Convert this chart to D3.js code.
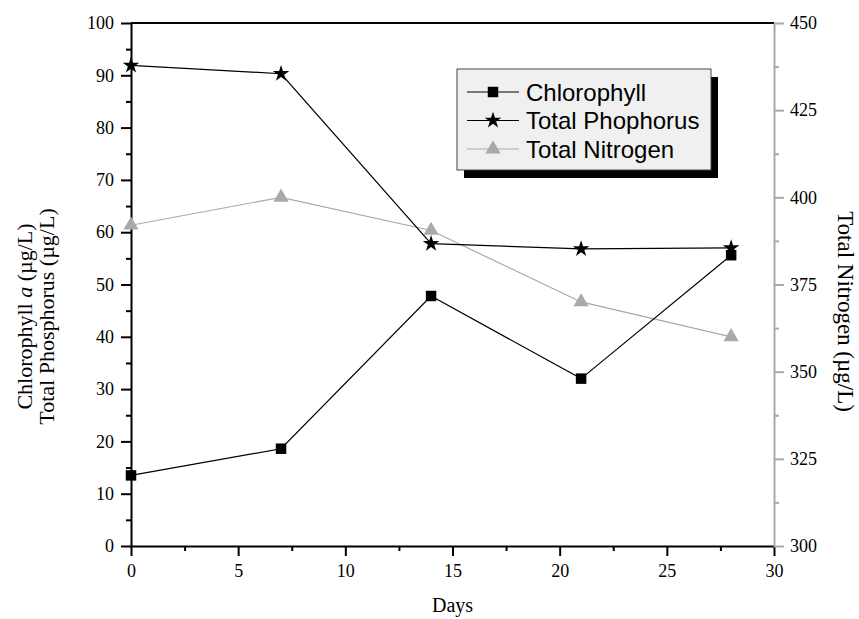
<!DOCTYPE html>
<html>
<head>
<meta charset="utf-8">
<script src="https://cdn.jsdelivr.net/npm/d3@7"></script>
<style>
  body { margin: 0; background: #fff; }
  svg { display: block; }
  .serif { font-family: "Liberation Serif", "Times New Roman", serif; }
  .sans { font-family: "Liberation Sans", Arial, sans-serif; }
</style>
</head>
<body>
<svg id="chart" width="859" height="619"></svg>
<script>
// Sampling days
const days = [0, 7, 14, 21, 28];
// Chlorophyll a (µg/L), left axis
const chlorophyll = [13.5, 18.6, 47.8, 32.0, 55.6];
// Total phosphorus (µg/L), left axis
const phosphorus = [91.9, 90.3, 57.8, 56.8, 57.0];
// Total nitrogen (µg/L), right axis
const nitrogen = [392, 400, 390.5, 370, 360];

const xTicks = [0, 5, 10, 15, 20, 25, 30];
const leftTicks = [0, 10, 20, 30, 40, 50, 60, 70, 80, 90, 100];
const rightTicks = [300, 325, 350, 375, 400, 425, 450];

const grey = "#a9a9a9";
const svg = d3.select("#chart");
const pLeft = 131, pRight = 774, pTop = 23, pBottom = 546;

const x = d3.scaleLinear().domain([0, 30]).range([pLeft, pRight]);
const yL = d3.scaleLinear().domain([0, 100]).range([pBottom, pTop]);
const yR = d3.scaleLinear().domain([300, 450]).range([pBottom, pTop]);

// top frame line
svg.append("line").attr("x1", pLeft).attr("x2", pRight).attr("y1", pTop).attr("y2", pTop)
  .attr("stroke", "#000").attr("stroke-width", 2);

// bottom axis
const xAxis = svg.append("g").attr("transform", `translate(0,${pBottom})`)
  .call(d3.axisBottom(x).tickValues(xTicks).tickSize(10).tickPadding(8).tickSizeOuter(0));
xAxis.selectAll(".tick line").attr("stroke-width", 2);
xAxis.select(".domain").attr("stroke-width", 2);
svg.append("g").attr("transform", `translate(0,${pBottom})`)
  .call(d3.axisBottom(x).tickValues(d3.range(2.5, 30, 5)).tickSize(5).tickFormat("").tickSizeOuter(0))
  .call(g => g.select(".domain").remove())
  .selectAll(".tick line").attr("stroke-width", 2);

// left axis
const lAxis = svg.append("g").attr("transform", `translate(${pLeft},0)`)
  .call(d3.axisLeft(yL).tickValues(leftTicks).tickSize(10).tickPadding(7).tickSizeOuter(0));
lAxis.selectAll(".tick line").attr("stroke-width", 2);
lAxis.select(".domain").attr("stroke-width", 2);
svg.append("g").attr("transform", `translate(${pLeft},0)`)
  .call(d3.axisLeft(yL).tickValues(d3.range(5, 100, 10)).tickSize(5).tickFormat("").tickSizeOuter(0))
  .call(g => g.select(".domain").remove())
  .selectAll(".tick line").attr("stroke-width", 2);

// right axis (nitrogen), grey
const rAxis = svg.append("g").attr("transform", `translate(${pRight},0)`)
  .call(d3.axisRight(yR).tickValues(rightTicks).tickSize(10).tickPadding(6).tickSizeOuter(0));
rAxis.selectAll(".tick line").attr("stroke", grey).attr("stroke-width", 2);
rAxis.select(".domain").attr("stroke", grey).attr("stroke-width", 2);
svg.append("g").attr("transform", `translate(${pRight},0)`)
  .call(d3.axisRight(yR).tickValues(d3.range(312.5, 450, 25)).tickSize(5).tickFormat("").tickSizeOuter(0))
  .call(g => g.select(".domain").remove())
  .selectAll(".tick line").attr("stroke", grey).attr("stroke-width", 2);

svg.selectAll(".tick text").attr("font-size", 18).attr("fill", "#000")
  .attr("font-family", "Liberation Serif, serif");

// axis titles
svg.append("text").attr("class", "serif").attr("font-size", 20)
  .attr("x", (pLeft + pRight) / 2).attr("y", 612).attr("text-anchor", "middle").text("Days");

const lt = svg.append("text").attr("class", "serif").attr("font-size", 22)
  .attr("text-anchor", "middle")
  .attr("transform", `translate(32,${(pTop + pBottom) / 2 + 32}) rotate(-90)`);
lt.append("tspan").text("Chlorophyll ");
lt.append("tspan").attr("font-style", "italic").text("a");
lt.append("tspan").text(" (µg/L)");
svg.append("text").attr("class", "serif").attr("font-size", 22)
  .attr("text-anchor", "middle")
  .attr("transform", `translate(54,${(pTop + pBottom) / 2 + 32}) rotate(-90)`)
  .text("Total Phosphorus (µg/L)");

svg.append("text").attr("class", "serif").attr("font-size", 23)
  .attr("text-anchor", "middle")
  .attr("transform", `translate(838,${(pTop + pBottom) / 2 + 27}) rotate(90)`)
  .text("Total Nitrogen (µg/L)");

// series
const series = [
  { name: "Chlorophyll", values: chlorophyll, y: yL, color: "#000", symbol: d3.symbolSquare, size: 110 },
  { name: "Total Phophorus", values: phosphorus, y: yL, color: "#000", symbol: d3.symbolStar, size: 85 },
  { name: "Total Nitrogen", values: nitrogen, y: yR, color: grey, symbol: d3.symbolTriangle, size: 100 }
];

// nitrogen drawn first so the black series sit on top
[series[2], series[0], series[1]].forEach(s => {
  const pts = days.map((d, i) => [d, s.values[i]]);
  svg.append("path").datum(pts)
    .attr("fill", "none").attr("stroke", s.color).attr("stroke-width", 1.2)
    .attr("d", d3.line().x(p => x(p[0])).y(p => s.y(p[1])));
  svg.append("g").selectAll("path").data(pts).join("path")
    .attr("transform", p => `translate(${x(p[0])},${s.y(p[1])})`)
    .attr("d", d3.symbol().type(s.symbol).size(s.size))
    .attr("fill", s.color);
});

// legend with drop shadow
const lg = svg.append("g");
lg.append("rect").attr("x", 464).attr("y", 77).attr("width", 254).attr("height", 101).attr("fill", "#000");
lg.append("rect").attr("x", 457).attr("y", 69).attr("width", 254).attr("height", 101)
  .attr("fill", "#f0f0f0").attr("stroke", "#444").attr("stroke-width", 1);
series.forEach((s, i) => {
  const cy = 92 + i * 28.5;
  lg.append("line").attr("x1", 467).attr("x2", 519).attr("y1", cy).attr("y2", cy)
    .attr("stroke", s.color).attr("stroke-width", 1.2);
  lg.append("path").attr("transform", `translate(493,${cy})`)
    .attr("d", d3.symbol().type(s.symbol).size(s.size)).attr("fill", s.color);
  lg.append("text").attr("class", "sans").attr("font-size", 24)
    .attr("x", 526).attr("y", cy + 8.5).text(s.name);
});
</script>
</body>
</html>
